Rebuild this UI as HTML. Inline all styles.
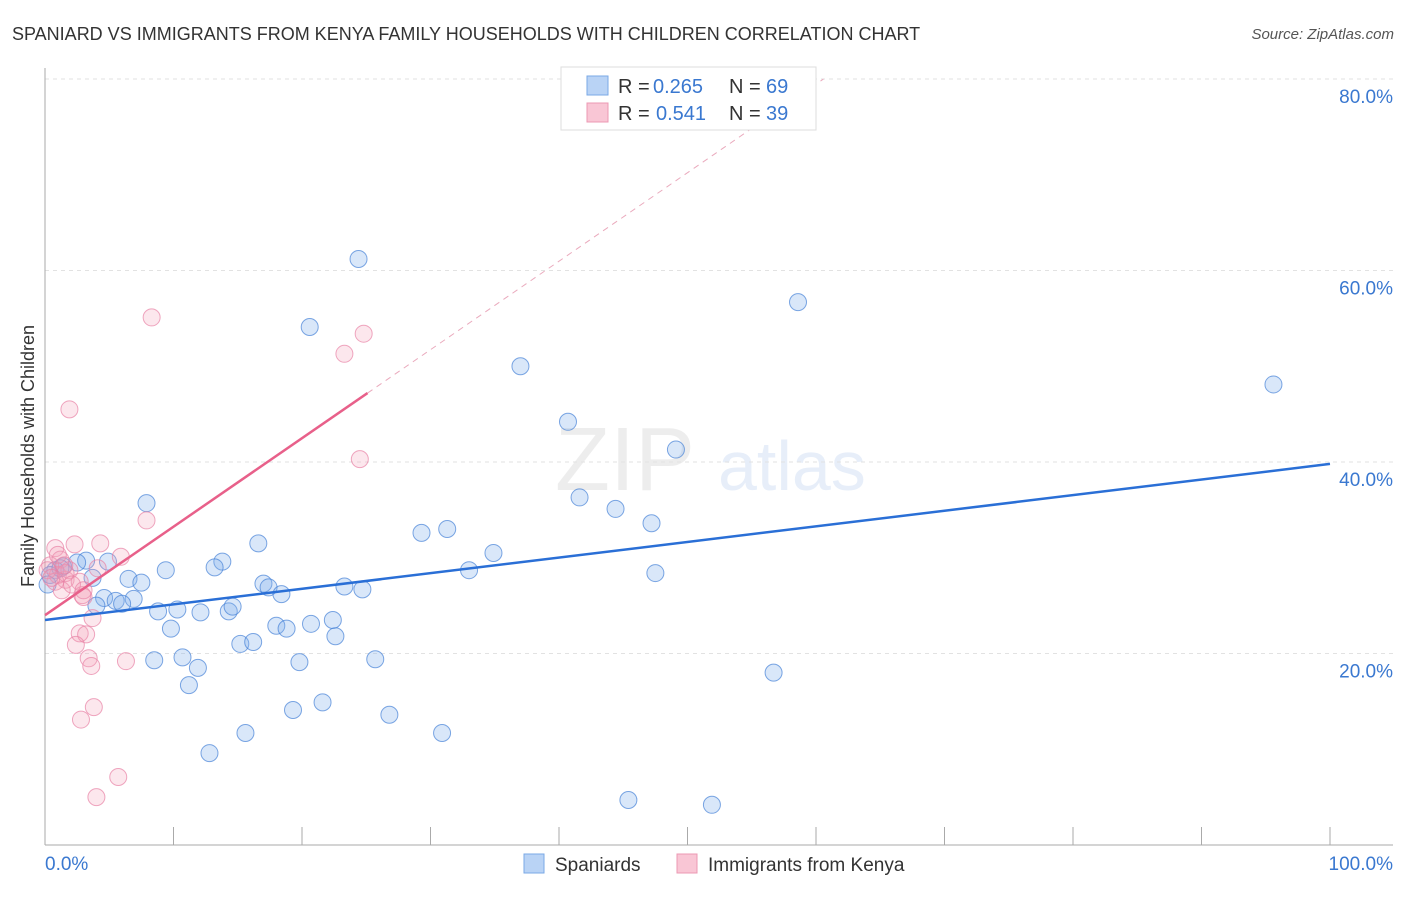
<!DOCTYPE html>
<html><head><meta charset="utf-8">
<style>
body{margin:0;background:#fff;font-family:"Liberation Sans",sans-serif;}
svg text{font-family:"Liberation Sans",sans-serif;}
</style></head>
<body>
<svg id="chart" width="1406" height="892" viewBox="0 0 1406 892">
<text x="12" y="40" font-size="18" fill="#333">SPANIARD VS IMMIGRANTS FROM KENYA FAMILY HOUSEHOLDS WITH CHILDREN CORRELATION CHART</text>
<text x="1394" y="39" font-size="15" fill="#555" text-anchor="end" font-style="italic">Source: ZipAtlas.com</text>
<g opacity="0.14">
<text x="555" y="490" font-size="90" font-family="Liberation Serif" fill="#888">ZIP</text>
<text x="718" y="490" font-size="70" fill="#5b8fd9">atlas</text>
</g>
<g id="grid"></g>
<g id="axes"></g>
<g id="marks"></g>
<g>
<rect x="561" y="67" width="255" height="63" fill="#fff" stroke="#ddd"/>
<rect x="587" y="76" width="21" height="19" fill="#b9d3f5" stroke="#7aa8e6"/>
<rect x="587" y="103" width="21" height="19" fill="#f9c6d5" stroke="#ec98b3"/>
<text x="618" y="93" font-size="20" fill="#333">R =</text>
<text x="653" y="93" font-size="20" fill="#3a78d0">0.265</text>
<text x="729" y="93" font-size="20" fill="#333">N =</text>
<text x="766" y="93" font-size="20" fill="#3a78d0">69</text>
<text x="618" y="120" font-size="20" fill="#333">R =</text>
<text x="656" y="120" font-size="20" fill="#3a78d0">0.541</text>
<text x="729" y="120" font-size="20" fill="#333">N =</text>
<text x="766" y="120" font-size="20" fill="#3a78d0">39</text>
</g>
<g>
<rect x="524" y="854" width="20" height="19" fill="#b9d3f5" stroke="#7aa8e6"/>
<text x="555" y="871" font-size="19" fill="#333">Spaniards</text>
<rect x="677" y="854" width="20" height="19" fill="#f9c6d5" stroke="#ec98b3"/>
<text x="708" y="871" font-size="19" fill="#333">Immigrants from Kenya</text>
</g>
<text transform="translate(34,456) rotate(-90)" font-size="18" fill="#333" text-anchor="middle">Family Households with Children</text>
</svg>
<script>
const yTicks=[20,40,60,80];
const yTickLabels=["20.0%","40.0%","60.0%","80.0%"];
const xTicks=[0,10,20,30,40,50,60,70,80,90,100];
const blueX=[24.4,20.6,58.6,37.0,95.6,40.7,49.1,41.6,44.4,47.2,31.3,29.3,34.9,7.9,16.6,13.8,13.2,9.4,6.5,7.5,3.7,3.2,2.5,4.9,1.4,0.8,0.4,0.2,33.0,47.5,17.0,17.4,18.4,23.3,24.7,6.9,4.6,5.5,4.0,6.0,10.3,8.8,12.1,14.3,14.6,22.4,20.7,18.0,18.8,9.8,22.6,15.2,16.2,8.5,10.7,19.8,25.7,11.9,56.7,11.2,21.6,19.3,26.8,15.6,30.9,12.8,45.4,51.9,1.2];
const blueY=[61.2,54.1,56.7,50.0,48.1,44.2,41.3,36.3,35.1,33.6,33.0,32.6,30.5,35.7,31.5,29.6,29.0,28.7,27.8,27.4,27.9,29.7,29.5,29.6,29.1,28.7,28.2,27.2,28.7,28.4,27.3,26.9,26.2,27.0,26.7,25.7,25.8,25.5,25.0,25.2,24.6,24.4,24.3,24.4,24.9,23.5,23.1,22.9,22.6,22.6,21.8,21.0,21.2,19.3,19.6,19.1,19.4,18.5,18.0,16.7,14.9,14.1,13.6,11.7,11.7,9.6,4.7,4.2,28.9];
const pinkX=[8.3,24.8,23.3,1.9,24.5,7.9,2.3,4.3,0.8,5.9,4.1,1.2,1.0,1.6,1.9,0.4,0.8,2.7,1.3,2.9,3.0,3.7,2.7,3.2,2.4,3.4,3.6,6.3,3.8,2.8,5.7,4.0,0.2,0.5,1.6,2.1,1.0,1.5,3.0];
const pinkY=[55.1,53.4,51.3,45.5,40.3,33.9,31.4,31.5,31.0,30.1,28.9,29.8,28.2,27.7,28.7,29.2,27.5,27.5,26.6,26.1,25.9,23.7,22.1,22.0,20.9,19.5,18.7,19.2,14.4,13.1,7.1,5.0,28.7,27.9,28.4,27.2,30.3,29.2,26.6];
const blueTrend=[23.5,39.8];
const pinkTrend=[24.0,47.2,25.1,80.0];
const NS="http://www.w3.org/2000/svg";
const sx=v=>45+v*12.85;
const sy=v=>845-v*9.575;
function mk(t,a,p){const e=document.createElementNS(NS,t);for(const k in a)e.setAttribute(k,a[k]);p.appendChild(e);return e;}
const grid=document.getElementById('grid'),axes=document.getElementById('axes'),marks=document.getElementById('marks');
yTicks.forEach((v,i)=>{
 const l=mk('line',{x1:45,x2:1393,y1:sy(v),y2:sy(v),stroke:'#e2e2e2','stroke-dasharray':'4,4'},grid);
 
 
 const t=mk('text',{x:1393,y:sy(v)+24,'font-size':19,fill:'#3a78d0','text-anchor':'end'},axes);
 t.textContent=yTickLabels[i];
 
 
});
let ax=mk('line',{x1:45,x2:1393,y1:845,y2:845,stroke:'#aaa'},axes);


let ay=mk('line',{x1:45,x2:45,y1:68,y2:845,stroke:'#aaa'},axes);


xTicks.forEach(v=>{
 const l=mk('line',{x1:sx(v),x2:sx(v),y1:827,y2:845,stroke:'#aaa'},axes);
 
 
});
let xl0=mk('text',{x:45,y:870,'font-size':19,fill:'#3a78d0'},axes);xl0.textContent='0.0%';


let xl1=mk('text',{x:1393,y:870,'font-size':19,fill:'#3a78d0','text-anchor':'end'},axes);xl1.textContent='100.0%';


blueX.forEach((x,i)=>{
 const c=mk('circle',{cx:sx(x),cy:sy(blueY[i]),r:8.5,fill:'rgba(130,175,235,0.3)',stroke:'rgba(70,130,215,0.7)','stroke-width':1},marks);
 
 
});
pinkX.forEach((x,i)=>{
 const c=mk('circle',{cx:sx(x),cy:sy(pinkY[i]),r:8.5,fill:'rgba(245,160,185,0.25)',stroke:'rgba(232,130,165,0.7)','stroke-width':1},marks);
 
 
});
let bt=mk('line',{x1:sx(0),y1:sy(blueTrend[0]),x2:sx(100),y2:sy(blueTrend[1]),stroke:'#2a6fd6','stroke-width':2.5},marks);


const ps=(pinkTrend[1]-pinkTrend[0])/pinkTrend[2];
const xEnd=(pinkTrend[3]-pinkTrend[0])/ps;
let pd=mk('line',{x1:sx(pinkTrend[2]),y1:sy(pinkTrend[1]),x2:sx(xEnd),y2:sy(pinkTrend[3]),stroke:'#eaaabd','stroke-width':1,'stroke-dasharray':'6,5'},marks);


let pt=mk('line',{x1:sx(0),y1:sy(pinkTrend[0]),x2:sx(pinkTrend[2]),y2:sy(pinkTrend[1]),stroke:'#e8608a','stroke-width':2.5},marks);


</script>
</body></html>
